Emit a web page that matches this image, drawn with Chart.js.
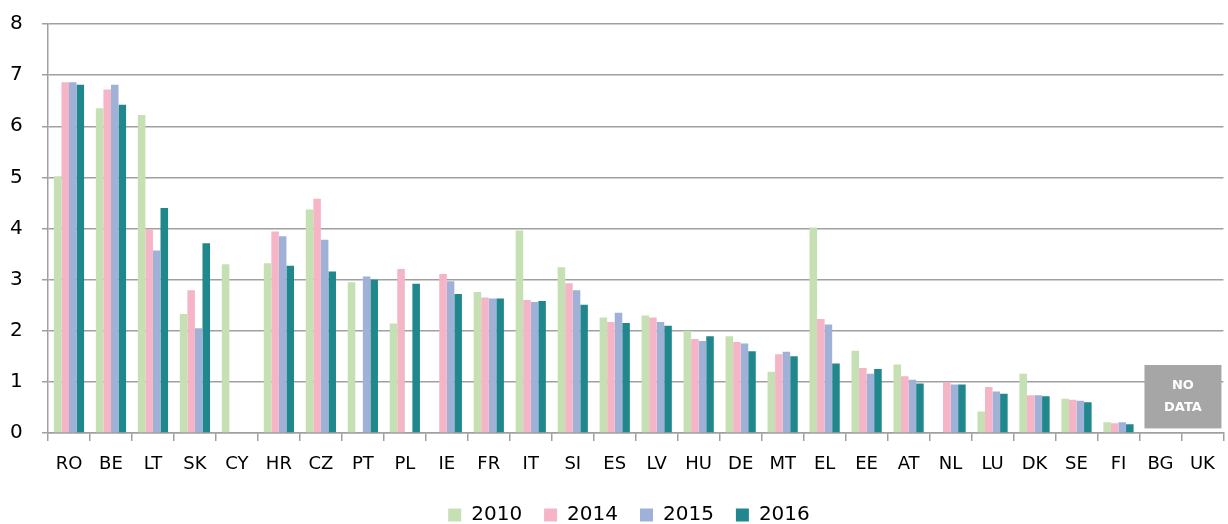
<!DOCTYPE html>
<html>
<head>
<meta charset="utf-8">
<script src="https://cdn.jsdelivr.net/npm/chart.js@4"></script>
<style>
  body { margin: 0; background: #fff; }
  #wrap { width: 1228px; height: 524px; }
</style>
</head>
<body>
<div id="wrap"><canvas id="myChart"></canvas></div>
<script>
const countries = ["RO", "BE", "LT", "SK", "CY", "HR", "CZ", "PT", "PL", "IE", "FR", "IT", "SI", "ES", "LV", "HU", "DE", "MT", "EL", "EE", "AT", "NL", "LU", "DK", "SE", "FI", "BG", "UK"];
const years = ["2010", "2014", "2015", "2016"];
const values2010 = [5.02, 6.35, 6.22, 2.33, 3.30, 3.32, 4.37, 2.95, 2.14, null, 2.76, 3.96, 3.24, 2.26, 2.30, 2.00, 1.89, 1.20, 4.02, 1.61, 1.34, null, 0.42, 1.16, 0.67, 0.21, null, null];
const values2014 = [6.86, 6.72, 3.99, 2.79, null, 3.94, 4.58, null, 3.21, 3.11, 2.65, 2.60, 2.93, 2.17, 2.26, 1.84, 1.78, 1.54, 2.23, 1.27, 1.11, 1.00, 0.90, 0.74, 0.65, 0.19, null, null];
const values2015 = [6.86, 6.81, 3.57, 2.05, null, 3.85, 3.78, 3.06, null, 2.97, 2.63, 2.56, 2.79, 2.35, 2.17, 1.80, 1.75, 1.59, 2.12, 1.16, 1.04, 0.95, 0.81, 0.74, 0.63, 0.21, null, null];
const values2016 = [6.81, 6.42, 4.40, 3.71, null, 3.27, 3.16, 3.00, 2.92, 2.72, 2.63, 2.58, 2.51, 2.15, 2.10, 1.89, 1.60, 1.50, 1.36, 1.25, 0.97, 0.95, 0.77, 0.72, 0.60, 0.17, null, null];
const colors = ["#c5e0b3", "#f5b5c7", "#9fb1d7", "#20878c"];

// grey "NO DATA" panel over BG / UK
const noDataBox = {
  id: "noDataBox",
  afterLayout(chart) {
    // legend sits a bit right of centre in the original
    chart.legend.left += 12;
    chart.legend.right += 12;
  },
  afterDatasetsDraw(chart) {
    const x = chart.scales.x;
    const y = chart.scales.y;
    const left = x.getPixelForValue(26) - 16;
    const right = x.getPixelForValue(27) + 19;
    const top = y.getPixelForValue(1.33);
    const bottom = y.getPixelForValue(0.09);
    const ctx = chart.ctx;
    ctx.save();
    ctx.fillStyle = "#a6a6a6";
    ctx.fillRect(left, top, right - left, bottom - top);
    ctx.fillStyle = "#ffffff";
    ctx.font = "bold 13px 'DejaVu Sans'";
    ctx.textAlign = "center";
    ctx.textBaseline = "middle";
    const cx = (left + right) / 2;
    ctx.fillText("NO", cx, top + 21);
    ctx.fillText("DATA", cx, top + 43);
    ctx.restore();
  },
};

const ctx = document.querySelector("#myChart");
const data = {
  labels: countries,
  datasets: [values2010, values2014, values2015, values2016].map((vals, i) => ({
    label: years[i],
    data: vals,
    backgroundColor: colors[i],
    borderWidth: 0,
    categoryPercentage: 0.72,
    barPercentage: 1.0,
  })),
};

new Chart(ctx, {
  type: "bar",
  data: data,
  plugins: [noDataBox],
  options: {
    responsive: true,
    maintainAspectRatio: false,
    animation: false,
    layout: { padding: { top: 12, right: 4, left: 10, bottom: 0 } },
    plugins: {
      tooltip: { enabled: false },
      legend: {
        position: "bottom",
        maxHeight: 41,
        labels: {
          color: "#000",
          font: { family: "DejaVu Sans", size: 20 },
          boxWidth: 13,
          boxHeight: 13,
          padding: 22,
        },
      },
    },
    scales: {
      x: {
        afterFit: (scale) => {
          scale.height = 50;
        },
        grid: {
          offset: true,
          drawOnChartArea: false,
          color: "#a0a0a0",
          tickLength: 8,
          lineWidth: 1.5,
        },
        border: { color: "#a0a0a0", width: 1.5 },
        ticks: {
          color: "#000",
          font: { family: "DejaVu Sans", size: 18 },
          padding: 13,
          autoSkip: false,
          maxRotation: 0,
        },
      },
      y: {
        min: 0,
        max: 8,
        afterFit: (scale) => {
          scale.width = 38;
        },
        grid: { color: "#a0a0a0", lineWidth: 1.5, tickLength: 6 },
        border: { color: "#a0a0a0", width: 1.5 },
        ticks: {
          stepSize: 1,
          color: "#000",
          font: { family: "DejaVu Sans", size: 20 },
          padding: 12,
          crossAlign: "far",
        },
      },
    },
  },
});
</script>
</body>
</html>
